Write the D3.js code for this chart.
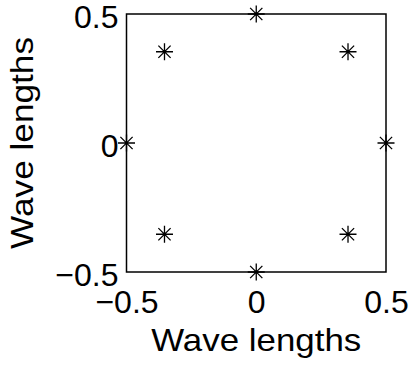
<!DOCTYPE html>
<html>
<head>
<meta charset="utf-8">
<script src="https://cdn.jsdelivr.net/npm/d3@7"></script>
<style>
  html, body { margin: 0; padding: 0; background: #fff; }
  svg text { font-family: "Liberation Sans", Arial, Helvetica, sans-serif; fill: #000; }
</style>
</head>
<body>
<div id="chart"></div>
<script>
// points on the circle of radius 0.5
const xValues = [0, 0.3536, 0.5, 0.3536, 0, -0.3536, -0.5, -0.3536];
const yValues = [0.5, 0.3536, 0, -0.3536, -0.5, -0.3536, 0, 0.3536];
const tickValues = [-0.5, 0, 0.5];
const tickLabels = ['\u22120.5', '0', '0.5'];
const xLabel = 'Wave lengths';
const yLabel = 'Wave lengths';

const width = 412, height = 365;
const boxL = 126.5, boxR = 386, boxT = 14, boxB = 272;

const svg = d3.select('#chart').append('svg')
  .attr('width', width)
  .attr('height', height);

const x = d3.scaleLinear().domain([-0.5, 0.5]).range([boxL, boxR]);
const y = d3.scaleLinear().domain([-0.5, 0.5]).range([boxB, boxT]);

const fmt = d => tickLabels[tickValues.indexOf(d)];

// axis box
svg.append('rect')
  .attr('x', boxL).attr('y', boxT)
  .attr('width', boxR - boxL).attr('height', boxB - boxT)
  .attr('fill', 'none').attr('stroke', '#000').attr('stroke-width', 1.5);

const xAxis = svg.append('g')
  .attr('transform', 'translate(0,' + boxB + ')')
  .call(d3.axisBottom(x).tickValues(tickValues).tickFormat(fmt).tickSize(0).tickPadding(0));
xAxis.select('.domain').remove();
xAxis.selectAll('text')
  .attr('font-size', '32px')
  .attr('font-family', null)
  .attr('dy', null)
  .attr('y', 41);

const yAxis = svg.append('g')
  .attr('transform', 'translate(' + boxL + ',0)')
  .call(d3.axisLeft(y).tickValues(tickValues).tickFormat(fmt).tickSize(0).tickPadding(0));
yAxis.select('.domain').remove();
yAxis.selectAll('text')
  .attr('font-size', '32px')
  .attr('font-family', null)
  .attr('dy', null)
  .attr('x', -8)
  .attr('y', 13);

// axis titles
svg.append('text')
  .attr('x', (boxL + boxR) / 2)
  .attr('y', 351)
  .attr('text-anchor', 'middle')
  .attr('font-size', '32px')
  .attr('textLength', 210)
  .attr('lengthAdjust', 'spacingAndGlyphs')
  .text(xLabel);

svg.append('text')
  .attr('transform', 'translate(33,' + ((boxT + boxB) / 2) + ') rotate(-90)')
  .attr('text-anchor', 'middle')
  .attr('font-size', '32px')
  .attr('textLength', 212)
  .attr('lengthAdjust', 'spacingAndGlyphs')
  .text(yLabel);

// asterisk markers
const s = 8.5, d = s * 0.72;
const star = 'M0,' + (-s) + 'V' + s + 'M' + (-s) + ',0H' + s +
  'M' + (-d) + ',' + (-d) + 'L' + d + ',' + d +
  'M' + (-d) + ',' + d + 'L' + d + ',' + (-d);

svg.selectAll('.pt')
  .data(xValues.map((v, i) => [v, yValues[i]]))
  .enter()
  .append('path')
  .attr('class', 'pt')
  .attr('transform', p => 'translate(' + x(p[0]) + ',' + y(p[1]) + ')')
  .attr('d', star)
  .attr('fill', 'none')
  .attr('stroke', '#000')
  .attr('stroke-width', 1.3);
</script>
</body>
</html>
